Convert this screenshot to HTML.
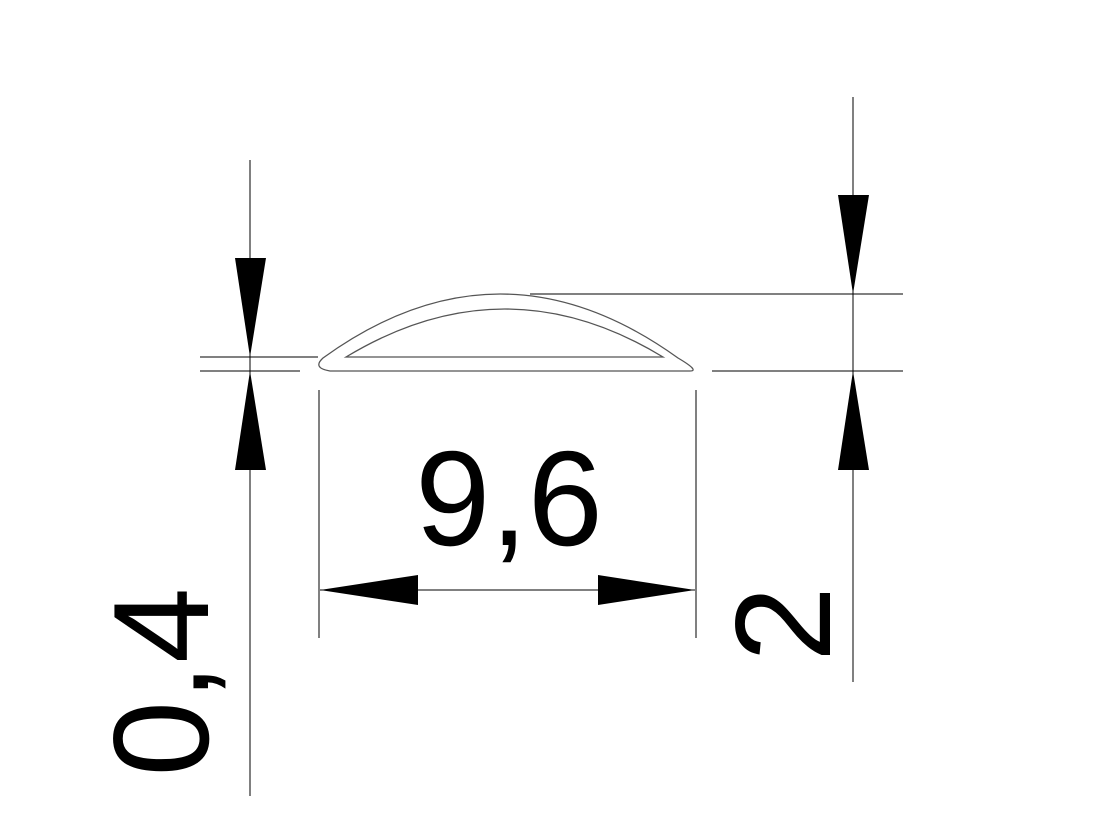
<!DOCTYPE html>
<html><head><style>body{margin:0;background:#fff}svg{display:block}</style></head>
<body>
<svg width="1115" height="818" xmlns="http://www.w3.org/2000/svg" font-family="Liberation Sans, sans-serif">
<g stroke="#000" stroke-width="1" fill="none">
<line x1="250" y1="160" x2="250" y2="796"/>
<line x1="853" y1="97" x2="853" y2="682"/>
<line x1="200" y1="357" x2="318" y2="357"/>
<line x1="200" y1="371" x2="300" y2="371"/>
<line x1="530" y1="294" x2="903" y2="294"/>
<line x1="712" y1="371" x2="903" y2="371"/>
<line x1="319" y1="390" x2="319" y2="638"/>
<line x1="696" y1="390" x2="696" y2="638"/>
<line x1="320" y1="590" x2="695" y2="590"/>
</g>
<g stroke="#555" stroke-width="1.3" fill="none">
<path d="M323 358 Q500 230 678 358 Q700 371 690 371 L330 371 Q312 368 323 358 Z"/>
<path d="M346 357 Q505 261 663 357 Z"/>
</g>
<g fill="#000">
<polygon points="235,258 266,258 250,357"/>
<polygon points="235,470 266,470 250,371"/>
<polygon points="838,195 869,195 853,294"/>
<polygon points="838,470 869,470 853,371"/>
<polygon points="320,590 418,575 418,605"/>
<polygon points="695,590 598,575 598,605"/>
</g>
<text x="509" y="545" font-size="135" text-anchor="middle">9,6</text>
<text transform="translate(208,682) rotate(-90)" font-size="136" text-anchor="middle">0,4</text>
<text transform="translate(830,624) rotate(-90)" font-size="136" text-anchor="middle">2</text>
</svg>
</body></html>
